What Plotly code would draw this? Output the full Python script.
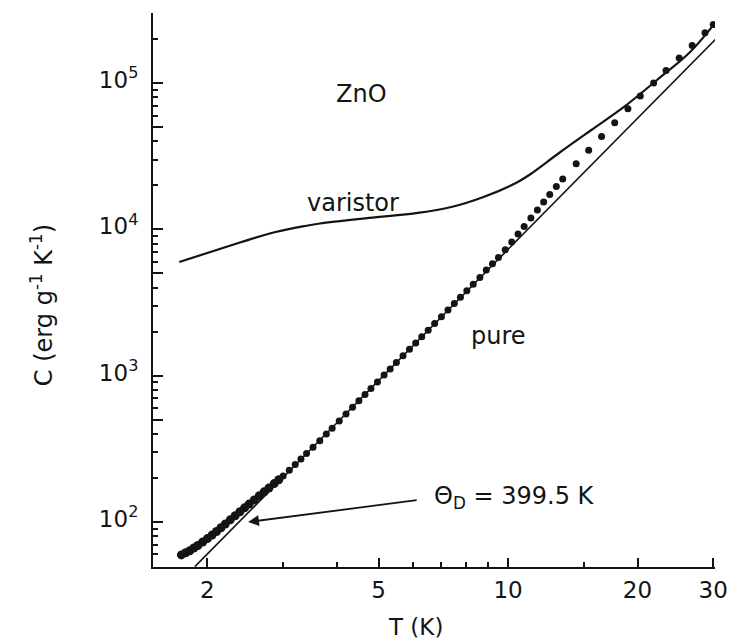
import numpy as np
import plotly.graph_objects as go

# ---------------- data ----------------
pure_T = [1.74, 1.78, 1.82, 1.86, 1.90, 1.95, 2.00, 2.05, 2.10, 2.15, 2.20, 2.26,
          2.32, 2.38, 2.44, 2.50, 2.57, 2.64, 2.71, 2.78, 2.86, 2.93,
          3.0, 3.1, 3.2, 3.3, 3.4, 3.52, 3.65, 3.78, 3.9, 4.05, 4.2, 4.35, 4.5,
          4.65, 4.8, 4.97, 5.15, 5.32, 5.5, 5.7, 5.9, 6.1, 6.3, 6.52, 6.75, 7.0,
          7.25, 7.5, 7.75, 8.02, 8.3, 8.6, 8.9, 9.2, 9.5, 9.85,
          10.2, 10.55, 10.9, 11.3, 11.7, 12.1, 12.5, 12.95, 13.4, 14.4, 15.4,
          16.5, 17.7, 19.0, 20.3, 21.8, 23.3, 25.0, 26.8, 28.7, 30.0]
pure_C = [59.6, 61.6, 63.6, 66.4, 69.1, 73.0, 77.0, 81.4, 86.1, 91.3, 96.8, 103.4,
          110.4, 117.5, 124.9, 132.5, 141.6, 151.1, 160.8, 170.8, 183.1, 194.5,
          206.4, 226.2, 247.6, 269.7, 293.5, 324.4, 359.1, 398.9, 438.1, 490.6,
          547.1, 607.9, 673, 742.4, 817, 906.6, 1009, 1112, 1229, 1368, 1517,
          1676, 1846, 2047, 2271, 2533, 2814, 3116, 3438, 3809, 4222, 4697,
          5270, 5815, 6434, 7270,
          8204, 9292, 10485, 11955, 13575, 15377, 17338, 19642, 22114, 28076,
          34741, 43220, 53596, 66795, 81463, 100131, 121701, 148624, 180987,
          221237, 251105]

varistor_T = [1.72, 2.36, 2.69, 2.88, 3.07, 3.356, 3.65, 4.75, 6.17, 7.38, 8.77,
              10.43, 11.2, 13.14, 15.62, 18.6, 22.2, 26.4, 29.8]
varistor_C = [5984, 8072, 9085, 9594, 10000, 10520, 10965, 11970, 12950, 14220,
              16660, 20750, 23540, 33270, 47770, 68700, 105000, 161000, 242000]

debye_T = [1.87, 30.4]
debye_C = [49.5, 2.0e5]

x_major = [2, 5, 10, 20, 30]
x_major_text = ["2", "5", "10", "20", "30"]
x_minor = [3, 4, 6, 7, 8, 9, 15]

y_major = [1e2, 1e3, 1e4, 1e5, 5e1, 5e2, 5e3, 5e4]
y_major_text = ["10<sup>2</sup>", "10<sup>3</sup>", "10<sup>4</sup>", "10<sup>5</sup>",
                "", "", "", ""]
y_minor = [60, 70, 80, 90, 200, 300, 400, 600, 700, 800, 900,
           2000, 3000, 4000, 6000, 7000, 8000, 9000,
           20000, 30000, 40000, 60000, 70000, 80000, 90000, 200000, 300000]

FONT = "DejaVu Sans"
INK = "#141414"

pure_sizes = [9 if t < 3.0 else 7 for t in pure_T]

fig = go.Figure()
fig.add_trace(go.Scatter(x=debye_T, y=debye_C, mode="lines",
                         line=dict(color=INK, width=1.6), showlegend=False))
fig.add_trace(go.Scatter(x=varistor_T, y=varistor_C, mode="lines",
                         line=dict(color=INK, width=2.2, shape="spline", smoothing=1.0),
                         showlegend=False))
fig.add_trace(go.Scatter(x=pure_T, y=pure_C, mode="markers",
                         marker=dict(color=INK, size=pure_sizes, opacity=1,
                                     line=dict(width=0)),
                         showlegend=False))

axis_common = dict(showgrid=False, zeroline=False, showline=True, linecolor=INK,
                   linewidth=2, ticks="inside", tickcolor=INK, tickwidth=2,
                   tickfont=dict(family=FONT, size=23, color=INK))

fig.update_xaxes(type="log", range=[0.1745, 1.4812], tickmode="array",
                 tickvals=x_major, ticktext=x_major_text, ticklen=9,
                 ticklabelstandoff=1,
                 minor=dict(tickmode="array", tickvals=x_minor, ticks="inside",
                            ticklen=5, tickwidth=2, tickcolor=INK),
                 **axis_common)
fig.update_yaxes(type="log", range=[1.6924, 5.479], tickmode="array",
                 tickvals=y_major, ticktext=y_major_text, ticklen=10,
                 ticklabelstandoff=8, ticklabelshift=-3,
                 minor=dict(tickmode="array", tickvals=y_minor, ticks="inside",
                            ticklen=5, tickwidth=2, tickcolor=INK),
                 **axis_common)

def label(text, xp, yp, size=24, xanchor="center", **kw):
    fig.add_annotation(text=text, x=xp, y=yp, xref="paper", yref="paper",
                       showarrow=False, xanchor=xanchor, yanchor="middle",
                       font=dict(family=FONT, size=size, color=INK), **kw)

label("ZnO", (366 - 153) / 573, (567 - 94) / 554)
label("varistor", (357 - 153) / 573, (567 - 203) / 554)
label("pure", (505 - 153) / 573, (567 - 336) / 554)
label("\u0398<sub>D</sub>\u00a0= 399.5\u00a0K", (437 - 153) / 573, (567 - 497) / 554,
      xanchor="left")
label("T (K)", (421 - 153) / 573, (567 - 627) / 554, size=23)
label("C (erg g<sup>-1</sup> K<sup>-1</sup>)", (40 - 153) / 573, (567 - 305) / 554,
      textangle=-90)

# arrow pointing to the Debye line
fig.add_annotation(text="", x=(250 - 153) / 573, y=(567 - 522) / 554,
                   xref="paper", yref="paper", showarrow=True,
                   ax=170, ay=-22, arrowhead=2, arrowsize=1.2, arrowwidth=1.8,
                   arrowcolor=INK, standoff=0)

fig.update_layout(width=740, height=644, margin=dict(l=153, r=14, t=13, b=77),
                  paper_bgcolor="white", plot_bgcolor="white",
                  font=dict(family=FONT, color=INK))

fig.write_html("out.html")
